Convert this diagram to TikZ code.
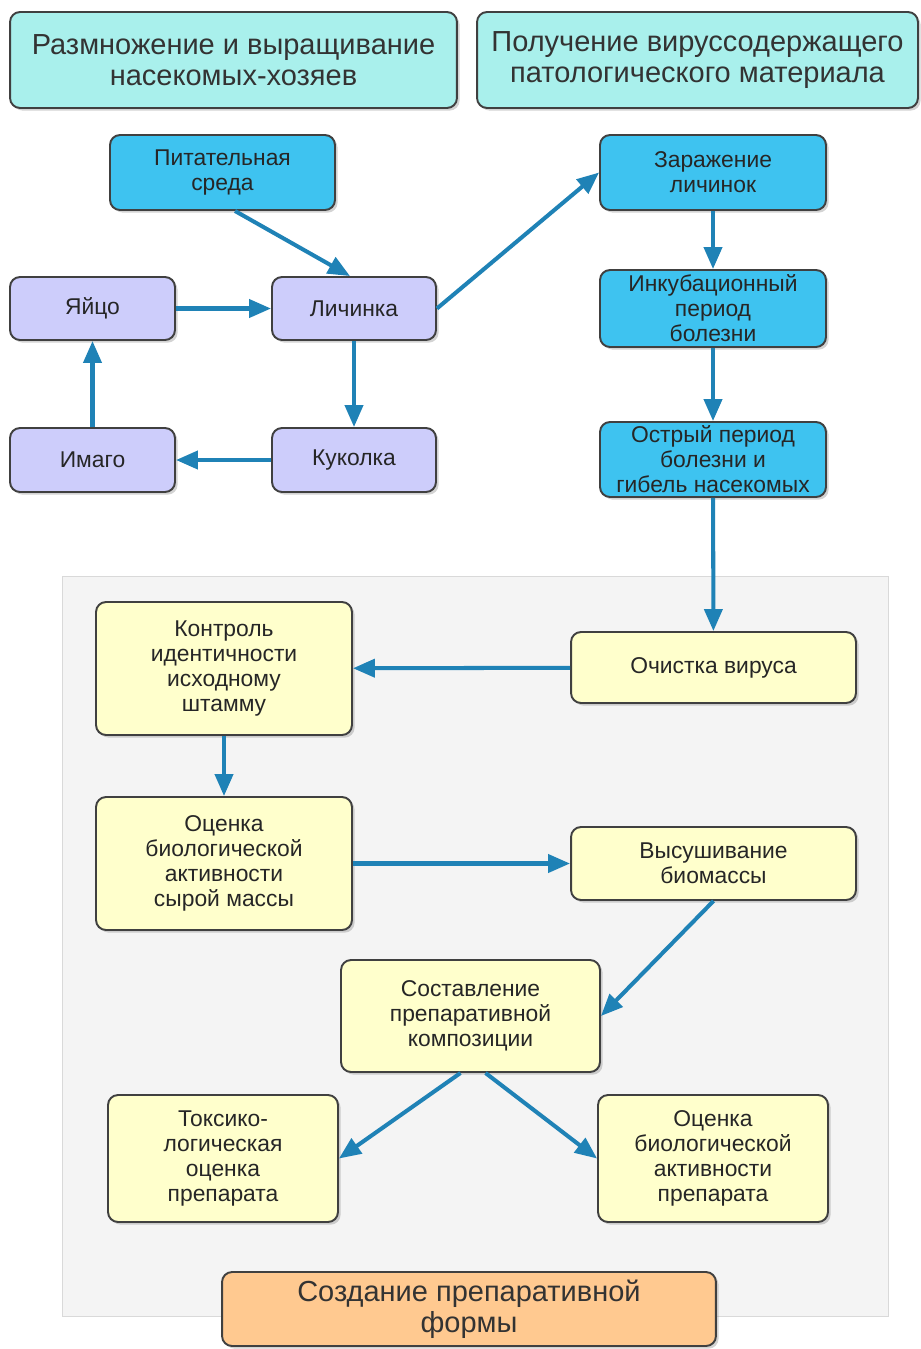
\documentclass[tikz,border=0pt]{standalone}
\usepackage{fontspec}
\setmainfont{Liberation Sans}
\usepackage{tikz}
\usetikzlibrary{arrows.meta,shadows}
\definecolor{headfill}{HTML}{A9F0EC}
\definecolor{bluefill}{HTML}{3EC3F0}
\definecolor{lilac}{HTML}{CDCDFB}
\definecolor{pale}{HTML}{FFFFCC}
\definecolor{peach}{HTML}{FFC990}
\definecolor{arrowblue}{HTML}{1F82B6}
\definecolor{panel}{HTML}{F4F4F4}

\begin{document}
\begin{tikzpicture}[x=0.02cm,y=-0.02cm]
      \useasboundingbox(0,0) rectangle (920,1349);
      \tikzset{B/.style = {shape=rectangle, rounded corners=0.2cm, draw=black!75, line width=1.1pt, align=center, inner sep=0pt, text=black!85,
                           font=\fontsize{13}{14.2}\selectfont, drop shadow={shadow xshift=1.5pt,shadow yshift=-1.5pt,opacity=0.35}}}
      \tikzset{H/.style = {B, fill=headfill, font=\fontsize{16.5}{17.5}\selectfont, text=black!80}}
      \tikzset{C/.style = {B, fill=bluefill}}
      \tikzset{L/.style = {B, fill=lilac}}
      \tikzset{Y/.style = {B, fill=pale}}
      \tikzset{E/.style = {draw=arrowblue, line width=2.3pt, -{Triangle[length=0.44cm,width=0.36cm]}}}
      % background panel
      \draw[black!15, fill=panel](62,576) rectangle (888,1316);
      % headers
      \node[H,minimum width=8.94cm,minimum height=1.92cm](t1) at (233.5,60) {Размножение и выращивание\\насекомых-хозяев};
      \node[H,minimum width=8.82cm,minimum height=1.92cm](t2) at (697.5,60) {Получение вируссодержащего\\патологического материала};
      % life cycle
      \node[C,minimum width=4.5cm,minimum height=1.5cm](pit) at (222.5,172.5) {Питательная\\среда};
      \node[L,minimum width=3.3cm,minimum height=1.26cm](yay) at (92.5,308.5) {Яйцо};
      \node[L,minimum width=3.28cm,minimum height=1.26cm](lich) at (354,308.5) {Личинка};
      \node[L,minimum width=3.3cm,minimum height=1.28cm](ima) at (92.5,460) {Имаго};
      \node[L,minimum width=3.28cm,minimum height=1.28cm](kuk) at (354,460) {Куколка};
      % infection
      \node[C,minimum width=4.52cm,minimum height=1.5cm](zar) at (713,172.5) {Заражение\\личинок};
      \node[C,minimum width=4.52cm,minimum height=1.54cm](ink) at (713,308.5) {Инкубационный\\период\\болезни};
      \node[C,minimum width=4.52cm,minimum height=1.5cm](ost) at (713,459.5) {Острый период\\болезни и\\гибель насекомых};
      % preparation
      \node[Y,minimum width=5.7cm,minimum height=1.42cm](och) at (713.5,667.5) {Очистка вируса};
      \node[Y,minimum width=5.12cm,minimum height=2.66cm](kon) at (224,668.5) {Контроль\\идентичности\\исходному\\штамму};
      \node[Y,minimum width=5.12cm,minimum height=2.66cm](ots) at (224,863.5) {Оценка\\биологической\\активности\\сырой массы};
      \node[Y,minimum width=5.7cm,minimum height=1.46cm](vys) at (713.5,863.5) {Высушивание\\биомассы};
      \node[Y,minimum width=5.18cm,minimum height=2.24cm](sos) at (470.5,1016) {Составление\\препаративной\\композиции};
      \node[Y,minimum width=4.6cm,minimum height=2.54cm](tox) at (223,1158.5) {Токсико-\\логическая\\оценка\\препарата};
      \node[Y,minimum width=4.6cm,minimum height=2.54cm](otp) at (713,1158.5) {Оценка\\биологической\\активности\\препарата};
      \node[H,fill=peach,minimum width=9.88cm,minimum height=1.48cm](soz) at (469,1309) {Создание препаративной\\формы};
      % connectors
      \draw[E]([xshift=0.25cm]pit.south) to ([xshift=-0.08cm]lich.north);
      \draw[E](yay) to (lich);
      \draw[E](lich) to (kuk);
      \draw[E](kuk) to (ima);
      \draw[E](ima) to (yay);
      \draw[E](lich.east) to (zar.west);
      \draw[E](zar) to (ink);
      \draw[E](ink) to (ost);
      \draw[E](ost) to (och);
      \draw[E](och) to (kon);
      \draw[E](kon) to (ots);
      \draw[E](ots) to (vys);
      \draw[E](vys.south) to (sos.east);
      \draw[E]([xshift=-0.2cm]sos.south) to (tox.east);
      \draw[E]([xshift=0.3cm]sos.south) to (otp.west);
    \end{tikzpicture}
\end{document}
